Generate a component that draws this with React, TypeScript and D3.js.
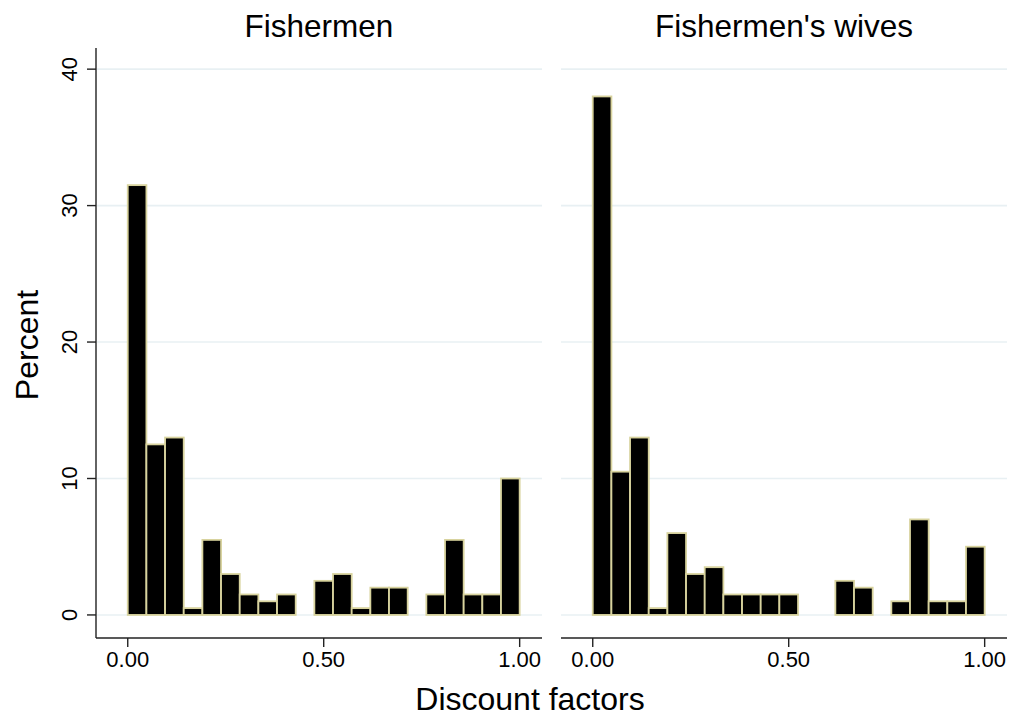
import React from 'react'
import {scaleLinear} from 'd3'

// percent of respondents per discount-factor bin (21 equal bins on 0..1)
const panels = ['Fishermen', "Fishermen's wives"]
const fishermen = [31.5, 12.5, 13, 0.5, 5.5, 3, 1.5, 1, 1.5, 0, 2.5, 3, 0.5, 2, 2, 0, 1.5, 5.5, 1.5, 1.5, 10]
const wives = [38, 10.5, 13, 0.5, 6, 3, 3.5, 1.5, 1.5, 1.5, 1.5, 0, 0, 2.5, 2, 0, 1, 7, 1, 1, 5]
const xTicks = [0, 0.5, 1]
const yTicks = [0, 10, 20, 30, 40]

const W = 1011
const H = 719
const font = '"Liberation Sans", Arial, Helvetica, sans-serif'
const panelLeft = [96, 561]
const panelW = 446
const top = 48
const bottom = 638

const y = scaleLinear().domain([-1.69, 41.55]).range([bottom, top])

const Panel = ({left, title, values, showY}) => {
    const x = scaleLinear().domain([-0.081, 1.057]).range([left, left + panelW])
    const n = values.length
    return (
        <g>
            {yTicks.map(t => (
                <line key={t} x1={left + (showY ? 1 : 0)} x2={left + panelW} y1={y(t)} y2={y(t)}
                    stroke="#e8f0f3" strokeWidth={1.6} />
            ))}
            {values.map((v, i) => v > 0 && (
                <rect key={i} x={x(i / n)} width={x((i + 1) / n) - x(i / n)}
                    y={y(v)} height={y(0) - y(v)}
                    fill="#000" stroke="#d8d39e" strokeWidth={1.8} />
            ))}
            <line x1={left} x2={left + panelW} y1={bottom} y2={bottom} stroke="#222" strokeWidth={1.4} />
            {xTicks.map(t => (
                <g key={t}>
                    <line x1={x(t)} x2={x(t)} y1={bottom} y2={bottom + 9} stroke="#222" strokeWidth={1.4} />
                    <text x={x(t)} y={667} textAnchor="middle" fontSize={22} fontFamily={font}>{t.toFixed(2)}</text>
                </g>
            ))}
            {showY && (
                <g>
                    <line x1={left} x2={left} y1={top} y2={bottom} stroke="#222" strokeWidth={1.4} />
                    {yTicks.map(t => (
                        <g key={t}>
                            <line x1={left - 9} x2={left} y1={y(t)} y2={y(t)} stroke="#222" strokeWidth={1.4} />
                            <text transform={`translate(77,${y(t)}) rotate(-90)`} textAnchor="middle"
                                fontSize={22} fontFamily={font}>{t}</text>
                        </g>
                    ))}
                </g>
            )}
            <text x={left + panelW / 2} y={37} textAnchor="middle" fontSize={31.5} fontFamily={font}>{title}</text>
        </g>
    )
}

const App = () => {
    const data = [fishermen, wives]
    return (
        <svg width={W} height={H} viewBox={`0 0 ${W} ${H}`}
            style={{position: 'absolute', left: 0, top: 0, background: '#fff'}}>
            <rect width={W} height={H} fill="#fff" />
            {panels.map((p, i) => (
                <Panel key={p} left={panelLeft[i]} title={p} values={data[i]} showY={i === 0} />
            ))}
            <text transform={`translate(38,345) rotate(-90)`} textAnchor="middle" fontSize={32} fontFamily={font}>Percent</text>
            <text x={530} y={710} textAnchor="middle" fontSize={32} fontFamily={font}>Discount factors</text>
        </svg>
    )
}

export default App
